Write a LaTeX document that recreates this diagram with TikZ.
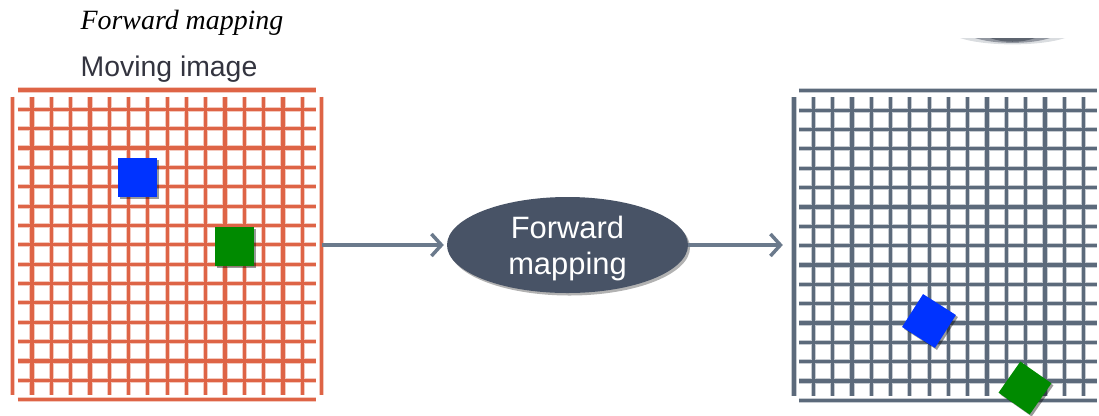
\documentclass[tikz,border=0pt]{standalone}
\usepackage{fontspec}
\newfontfamily\arialfam{Liberation Sans}
\newfontfamily\timesfam{Liberation Serif}
\usetikzlibrary{arrows.meta,shapes.geometric,shadows}

\definecolor{gridorange}{HTML}{DE6446}
\definecolor{gridslate}{HTML}{5C6A7B}
\definecolor{nodeslate}{HTML}{485366}
\definecolor{arrowslate}{HTML}{6B7A8C}
\definecolor{sqblue}{HTML}{0033FF}
\definecolor{sqgreen}{HTML}{008A00}
\definecolor{labelgray}{HTML}{33343F}

% 17 x 17 mesh of separate line segments, open at the corners
% #1 = left x, #2 = top y, #3 = colour
\newcommand\meshlines[3]{%
  \foreach \i in {0,...,16} {
    \draw[#3] ({#1+19.3*\i},{#2+6.5}) -- ({#1+19.3*\i},{#2+305});
  }
  \foreach \j in {0,...,16} {
    \draw[#3] ({#1+4.8},{#2+19.35*\j}) -- ({#1+303.3},{#2+19.35*\j});
  }
}
\newcommand\meshgrid[3]{%
  \meshlines{#1}{#2}{gridhalo,#3!35}
  \meshlines{#1}{#2}{gridline,#3}
}

\begin{document}
\begin{tikzpicture}[x=1bp,y=-1bp,
  gridline/.style={line width=3.2bp},
  gridhalo/.style={line width=5.2bp},
  gridbox/.style={inner sep=0pt, minimum width=308.8bp, minimum height=310bp},
  sqbox/.style={rectangle, inner sep=0pt, minimum size=39bp,
    drop shadow={shadow xshift=2bp, shadow yshift=-2bp, opacity=0.4, fill=black}},
  mapnode/.style={ellipse, fill=nodeslate, minimum width=241bp, minimum height=96bp,
    inner sep=0pt,
    drop shadow={shadow xshift=2bp, shadow yshift=-2.5bp, opacity=0.3, fill=black}},
  maptext/.style={inner sep=0pt, text=white, align=center,
    font=\arialfam\fontsize{31}{37}\selectfont},
  flow/.style={draw=arrowslate, line width=3.5bp,
    -{Straight Barb[length=10bp,width=22bp]}},
]
\useasboundingbox (0,0) rectangle (1099,415);

% headings
\node[font=\timesfam\itshape\fontsize{28}{32}\selectfont, anchor=base] (title) at (182,29) {Forward mapping};
\node[font=\arialfam\fontsize{28.5}{32}\selectfont, text=labelgray, anchor=base] (movlabel) at (169,76) {Moving image};

% moving image grid and its two patches
\meshgrid{12.7}{90}{gridorange}
\node[gridbox] (movgrid) at (167.1,245) {};
\node[sqbox, fill=sqblue] (bluesrc) at (137.5,177.5) {};
\node[sqbox, fill=sqgreen] (greensrc) at (234.5,246) {};

% mapping step
\node[mapnode] (fwd) at (567.5,245) {};
\node[maptext] (fwdtext) at (567.5,248.5) {Forward\\mapping};

% resulting grid with the displaced patches
\meshgrid{794}{90.8}{gridslate}
\node[gridbox] (resgrid) at (948.4,245) {};
\node[sqbox, fill=sqblue, rotate=-32.5] (bluedst) at (929,321) {};
\node[sqbox, fill=sqgreen, rotate=-35, minimum size=38bp] (greendst) at (1025,388) {};

% connectors
\draw[flow, shorten >=3bp] (movgrid.east) -- (fwd.west);
\draw[flow, shorten >=11bp] (fwd.east) -- (resgrid.west);

% dark sliver at the top right
\fill[nodeslate, opacity=0.2] (960,38) .. controls (985,46.5) and (1040,46.5) .. (1065,38) -- cycle;
\fill[nodeslate!80!black, opacity=0.45] (975,38) .. controls (995,44.5) and (1030,44.5) .. (1050,38) -- cycle;
\fill[nodeslate!70!black, opacity=0.55] (990,38) .. controls (1003,43) and (1022,43) .. (1035,38) -- cycle;
\end{tikzpicture}
\end{document}
